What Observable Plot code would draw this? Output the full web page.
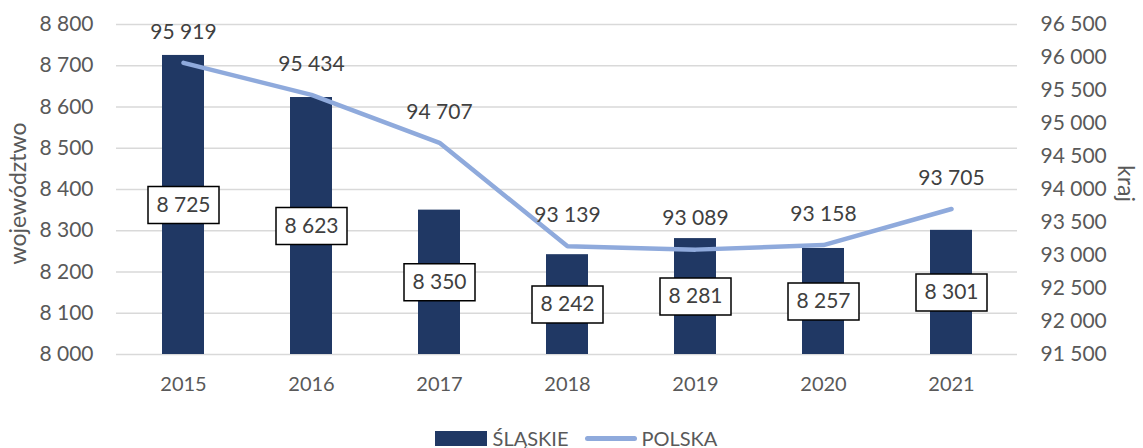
<!DOCTYPE html>
<html>
<head>
<meta charset="utf-8">
<script src="https://cdn.jsdelivr.net/npm/d3@7"></script>
<script src="https://cdn.jsdelivr.net/npm/@observablehq/plot@0.6"></script>
<style>
  html, body { margin: 0; padding: 0; background: white; }
  #legend { display: flex; justify-content: center; align-items: center; height: 36px; font: 20px Lato, sans-serif; color: #595959; padding-left: 9px; }
  #legend .bar { display: inline-block; width: 52px; height: 15px; background: #203864; margin-right: 6px; }
  #legend .line { display: inline-block; width: 52px; height: 5px; background: #8FAADC; border-radius: 3px; margin: 0 4px 0 17px; }
</style>
</head>
<body>
<div id="chart"></div>
<div id="legend"><span class="bar"></span>ŚLĄSKIE<span class="line"></span>POLSKA</div>
<script>
const years = ["2015", "2016", "2017", "2018", "2019", "2020", "2021"];
const slaskie = [8725, 8623, 8350, 8242, 8281, 8257, 8301];
const polska = [95919, 95434, 94707, 93139, 93089, 93158, 93705];
const leftTicks = [8000, 8100, 8200, 8300, 8400, 8500, 8600, 8700, 8800];
const rightTicks = [91500, 92000, 92500, 93000, 93500, 94000, 94500, 95000, 95500, 96000, 96500];
const leftLabel = "województwo";
const rightLabel = "kraj";

const fmt = v => d3.format(",")(v).replace(/,/g, " ");
const toLeft = v => 8000 + (v - 91500) * (800 / 5000);
const fromLeft = v => 91500 + (v - 8000) * (5000 / 800);

const barData = years.map((y, i) => ({year: y, v: slaskie[i]}));
const lineData = years.map((y, i) => ({year: y, v: polska[i]}));

const boxSymbol = {
  draw(context) { context.rect(-35.5, -18.5, 71, 37); }
};

const chart = Plot.plot({
  width: 1143,
  height: 420,
  marginLeft: 116,
  marginRight: 126,
  marginTop: 24,
  marginBottom: 66,
  style: {fontFamily: "Lato, sans-serif", fontSize: "21px", color: "#595959", background: "white"},
  x: {domain: years, paddingInner: 0.674, paddingOuter: 0.337},
  y: {domain: [8000, 8800]},
  marks: [
    Plot.gridY(leftTicks, {stroke: "#d9d9d9", strokeOpacity: 1, strokeWidth: 1.5}),
    Plot.barY(barData, {x: "year", y1: 8000, y2: "v", fill: "#203864"}),
    Plot.line(lineData, {x: "year", y: d => toLeft(d.v), stroke: "#8FAADC", strokeWidth: 4.5, strokeLinecap: "round", strokeLinejoin: "round"}),
    Plot.text(lineData, {x: "year", y: d => toLeft(d.v), text: d => fmt(d.v), dy: -31, fill: "#404040", fontSize: 21}),
    Plot.dot(barData, {x: "year", y: d => (d.v + 8000) / 2, symbol: boxSymbol, fill: "white", stroke: "black", strokeWidth: 1.5}),
    Plot.text(barData, {x: "year", y: d => (d.v + 8000) / 2, text: d => fmt(d.v), fill: "#404040", fontSize: 21}),
    Plot.axisY(leftTicks, {anchor: "left", tickSize: 0, tickPadding: 23, tickFormat: fmt, label: null}),
    Plot.axisY(rightTicks.map(toLeft), {anchor: "right", tickSize: 0, tickPadding: 23, tickFormat: d => fmt(Math.round(fromLeft(d))), label: null}),
    Plot.axisX({tickSize: 0, tickPadding: 22, label: null, fontSize: 20}),
    Plot.text([leftLabel], {frameAnchor: "left", text: d => d, rotate: -90, dx: -98, dy: 4, textAnchor: "middle", fill: "#595959", fontSize: 23}),
    Plot.text([rightLabel], {frameAnchor: "right", text: d => d, rotate: 90, dx: 108, dy: -6, textAnchor: "middle", fill: "#595959", fontSize: 23})
  ]
});
document.getElementById("chart").appendChild(chart);
</script>
</body>
</html>
